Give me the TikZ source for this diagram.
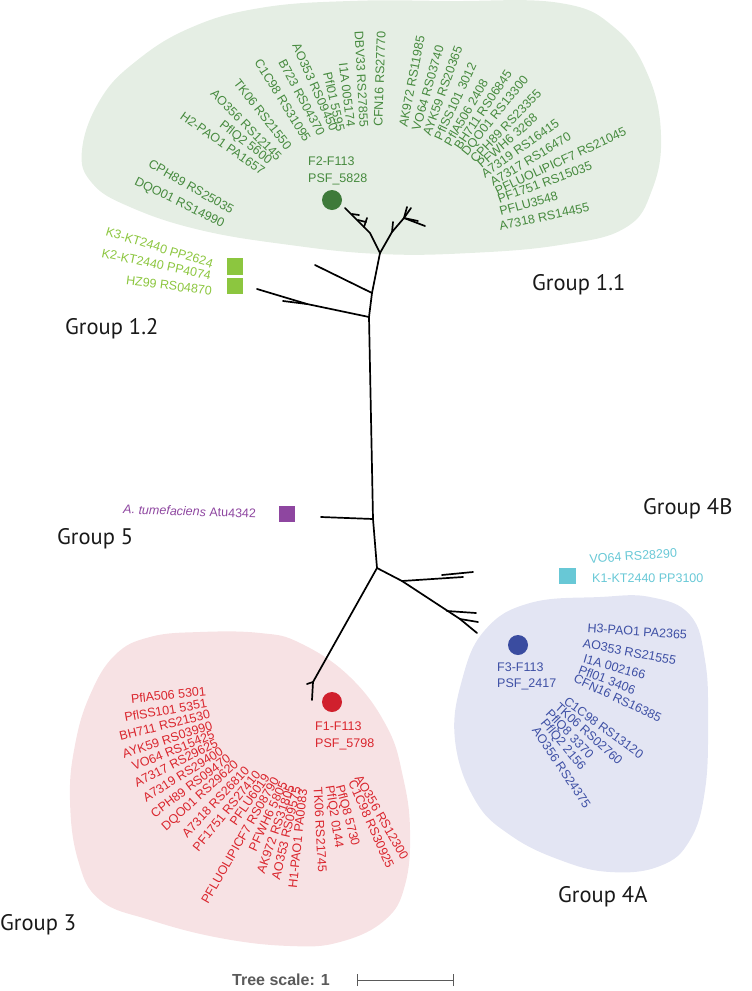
\documentclass[tikz,border=0pt]{standalone}
\usepackage{fontspec}
\setmainfont{Liberation Sans}
\newfontfamily\grpfont{PT Sans}
\definecolor{gblob}{RGB}{229,238,228}
\definecolor{rblob}{RGB}{247,226,228}
\definecolor{bblob}{RGB}{227,229,243}
\definecolor{gtext}{RGB}{70,138,62}
\definecolor{gdot}{RGB}{62,122,58}
\definecolor{lgreen}{RGB}{140,198,63}
\definecolor{rtext}{RGB}{218,37,45}
\definecolor{rdot}{RGB}{208,32,45}
\definecolor{btext}{RGB}{62,80,165}
\definecolor{bdot}{RGB}{58,76,160}
\definecolor{cyantx}{RGB}{104,200,214}
\definecolor{purp}{RGB}{142,70,160}
\definecolor{scalegray}{RGB}{90,90,90}
\tikzset{
  lab/.style={inner sep=0pt, font=\fontsize{12.5}{14}\selectfont},
  grp/.style={inner sep=0pt, anchor=base west, font=\grpfont\fontsize{22.5}{26}\selectfont, text=black!90},
  br/.style={line width=1.7pt, line cap=round, line join=round, black},
  dotmark/.style={circle, inner sep=0pt, minimum size=20pt},
  sqmark/.style={rectangle, inner sep=0pt, minimum size=16.5pt},
  reflab/.style={inner sep=0pt, anchor=base west, align=left, font=\fontsize{12.5}{16.5}\selectfont},
}
\newcommand\labL[6]{\node[lab,text=#2,anchor=east,rotate=#5] (#1) at (#3,#4) {#6};}
\newcommand\labR[6]{\node[lab,text=#2,anchor=west,rotate=#5] (#1) at (#3,#4) {#6};}
\begin{document}
\begin{tikzpicture}[x=1pt,y=-1pt]
\useasboundingbox (0,0) rectangle (752,991);
% blobs
\fill[gblob] plot[smooth cycle, tension=0.7] coordinates {(82,150) (100,100) (135,62) (190,28) (260,8) (350,1) (450,1) (560,3) (615,28) (648,75) (661,135) (652,190) (625,228) (560,245) (470,253) (380,254) (290,245) (200,230) (130,207) (92,183)};
\fill[rblob] plot[smooth cycle, tension=0.7] coordinates {(200,632) (260,633) (300,643) (350,677) (387,727) (403,777) (410,830) (405,885) (385,920) (340,942) (290,946) (220,938) (150,920) (100,900) (78,860) (70,800) (75,745) (90,695) (115,655) (150,637)};
\fill[bblob] plot[smooth cycle, tension=0.7] coordinates {(455,740) (462,680) (485,630) (530,603) (600,597) (650,597) (690,615) (705,660) (708,720) (705,790) (690,840) (660,866) (610,872) (560,860) (510,835) (475,800)};
% tree
\coordinate (J1) at (380,253);
\coordinate (T1) at (372,293);
\coordinate (T2) at (369,317);
\coordinate (T5) at (373,519);
\coordinate (J3) at (377,568);
\coordinate (L1) at (370,233);
\coordinate (L2) at (345,208);
\coordinate (R1) at (392,232);
\coordinate (R2) at (404,218);
\coordinate (K3) at (315,265);
\coordinate (KN) at (307,304);
\coordinate (K2) at (257,289);
\coordinate (HZ) at (283,301);
\coordinate (G5) at (321,517);
\coordinate (G3) at (313,682);
\coordinate (B4) at (402,581);
\coordinate (N4A) at (460,619);
\draw[br] (J1) -- (T1) -- (T2) -- (T5) -- (J3);
\draw[br] (J1) -- (L1) -- (L2);
\draw[br] (358,220) -- (366,222);
\draw[br] (352,214) -- (359,215);
\draw[br] (364,227) -- (367,218);
\draw[br] (J1) -- (R1) -- (R2);
\draw[br] (R1) -- (393,222);
\draw[br] (R2) -- (407,207);
\draw[br] (R2) -- (411,208);
\draw[br] (R2) -- (418,221);
\draw[br] (R2) -- (425,226);
\draw[br] (T1) -- (K3);
\draw[br] (T2) -- (KN) -- (K2);
\draw[br] (KN) -- (HZ);
\draw[br] (T5) -- (G5);
\draw[br] (J3) -- (G3) -- (307,684);
\draw[br] (G3) -- (312,700);
\draw[br] (J3) -- (B4) -- (463,577);
\draw[br] (442,575) -- (473,572);
\draw[br] (B4) -- (N4A) -- (477,633);
\draw[br] (N4A) -- (478,622);
\draw[br] (447,611) -- (476,613);
% markers
\node[dotmark, fill=gdot] (dotG) at (332,200) {};
\node[dotmark, fill=rdot] (dotR) at (332,702) {};
\node[dotmark, fill=bdot] (dotB) at (518,645) {};
\node[sqmark, fill=lgreen] (sqK3) at (235,266.5) {};
\node[sqmark, fill=lgreen] (sqK2) at (235,286) {};
\node[sqmark, fill=purp] (sqA) at (287,514) {};
\node[sqmark, fill=cyantx] (sqK1) at (567.5,576) {};
% reference labels (base = last line)
\node[reflab, text=gtext] (fG) at (308,182) {F2-F113\\PSF\_5828};
\node[reflab, text=rtext] (fR) at (315,747) {F1-F113\\PSF\_5798};
\node[reflab, text=btext, font=\fontsize{12.5}{15.5}\selectfont] (fB) at (497,687) {F3-F113\\PSF\_2417};
% group 1.1 left
\labL{g1}{gtext}{364}{127}{-87}{DBV33 RS27855}
\labL{g2}{gtext}{351}{127}{-83}{I1A 005174}
\labL{g3}{gtext}{341}{131}{-77}{Pfl01 5595}
\labL{g4}{gtext}{334.5}{130.6}{-66}{AO353 RS09450}
\labL{g5}{gtext}{321.7}{135.2}{-62}{B723 RS04370}
\labL{g6}{gtext}{307.9}{140.8}{-58}{C1C98 RS31095}
\labL{g7}{gtext}{289.3}{148.3}{-52}{TK06 RS21550}
\labL{g8}{gtext}{279.8}{158.8}{-45}{AO356 RS12145}
\labL{g9}{gtext}{270.3}{162.3}{-38}{PflQ2 5600}
\labL{g10}{gtext}{263.6}{172.1}{-35}{H2-PAO1 PA1657}
\labL{g11}{gtext}{233}{210.8}{-30}{CPH89 RS25035}
\labL{g12}{gtext}{223.4}{224.6}{-26}{DQO01 RS14990}
% group 1.1 right
\labR{h1}{gtext}{378}{127}{88}{CFN16 RS27770}
\labR{h2}{gtext}{403}{127}{79}{AK972 RS11985}
\labR{h3}{gtext}{415.8}{130.3}{74}{VO64 RS03740}
\labR{h4}{gtext}{426.6}{135}{70}{AYK59 RS20365}
\labR{h5}{gtext}{437.4}{139.5}{65}{PflSS101 3012}
\labR{h6}{gtext}{447.2}{145}{60}{PflA506 2408}
\labR{h7}{gtext}{457}{148.6}{56}{BH711 RS06845}
\labR{h8}{gtext}{464.7}{154.2}{51}{DQO01 RS13300}
\labR{h9}{gtext}{472.3}{160.8}{46}{CPH89 RS23355}
\labR{h10}{gtext}{478.9}{165.5}{41}{PFWH6 3268}
\labR{h11}{gtext}{482.4}{175.1}{35}{A7319 RS16415}
\labR{h12}{gtext}{491.1}{182.9}{31}{A7317 RS16470}
\labR{h13}{gtext}{495.5}{191.6}{25}{PFLUOLIPICF7 RS21045}
\labR{h14}{gtext}{498}{199.4}{20}{PF1751 RS15035}
\labR{h15}{gtext}{499.6}{211.2}{15}{PFLU3548}
\labR{h16}{gtext}{499.2}{226.1}{12}{A7318 RS14455}
% group 1.2
\labL{k1}{lgreen}{213}{264}{-17}{K3-KT2440 PP2624}
\labL{k2}{lgreen}{211}{276}{-12}{K2-KT2440 PP4074}
\labL{k3}{lgreen}{212}{291}{-7}{HZ99 RS04870}
% group 5
\node[lab, text=purp, anchor=west, rotate=-2] (atu) at (123.2,509) {\textit{A. tumefaciens} Atu4342};
% group 4B
\labR{c1}{cyantx}{589.4}{559}{4}{VO64 RS28290}
\labR{c2}{cyantx}{592}{578}{0}{K1-KT2440 PP3100}
% group 4A
\labR{b1}{btext}{587.4}{628}{-4}{H3-PAO1 PA2365}
\labR{b2}{btext}{583}{643}{-11}{AO353 RS21555}
\labR{b3}{btext}{583.5}{658}{-16}{I1A 002166}
\labR{b4}{btext}{579}{669}{-21}{Pfl01 3406}
\labR{b5}{btext}{574.4}{678}{-25}{CFN16 RS16385}
\labR{b6}{btext}{565.4}{700}{-36}{C1C98 RS13120}
\labR{b7}{btext}{557}{705}{-42}{TK06 RS02760}
\labR{b8}{btext}{547.3}{712}{-46}{PflQ8 3370}
\labR{b9}{btext}{542.6}{721}{-50}{PflQ2 2156}
\labR{b10}{btext}{535}{728}{-56}{AO356 RS24375}
% group 3 left
\labL{r1}{rtext}{206}{691}{6}{PflA506 5301}
\labL{r2}{rtext}{207}{703}{10}{PflSS101 5351}
\labL{r3}{rtext}{210}{714}{14}{BH711 RS21530}
\labL{r4}{rtext}{212}{725}{18}{AYK59 RS03990}
\labL{r5}{rtext}{214}{734}{22}{VO64 RS15425}
\labL{r6}{rtext}{217}{742}{27}{A7317 RS29625}
\labL{r7}{rtext}{222}{750}{32}{A7319 RS29400}
\labL{r8}{rtext}{229}{757}{37}{CPH89 RS09470}
\labL{r9}{rtext}{237}{763}{42}{DQO01 RS29620}
\labL{r10}{rtext}{247}{768}{47}{A7318 RS26810}
\labL{r11}{rtext}{258}{772}{51}{PF1751 RS27410}
\labL{r12}{rtext}{267}{775}{55}{PFLU6019}
\labL{r13}{rtext}{276}{778}{60}{PFLUOLIPICF7 RS08790}
\labL{r14}{rtext}{284}{782}{65}{PFWH6 5805}
\labL{r15}{rtext}{291}{785}{71}{AK972 RS31805}
\labL{r16}{rtext}{297}{787}{77}{AO353 RS09575}
\labL{r17}{rtext}{303}{789}{84}{H1-PAO1 PA0083}
% group 3 right
\labR{s1}{rtext}{318}{787}{-87}{TK06 RS21745}
\labR{s2}{rtext}{329}{786}{-81}{PflQ2 0144}
\labR{s3}{rtext}{339}{785}{-75}{PflQ8 5730}
\labR{s4}{rtext}{352}{781}{-66}{C1C98 RS30925}
\labR{s5}{rtext}{358}{776}{-60}{AO356 RS12300}
% group titles
\node[grp] (t11) at (532,290) {Group 1.1};
\node[grp] (t12) at (65,334) {Group 1.2};
\node[grp] (t5) at (57,544) {Group 5};
\node[grp] (t4b) at (643,514) {Group 4B};
\node[grp] (t4a) at (558,902) {Group 4A};
\node[grp] (t3) at (0,930) {Group 3};
% tree scale
\node[inner sep=0pt, anchor=base west, text=scalegray, font=\bfseries\fontsize{16}{18}\selectfont] (ts) at (232,985) {Tree scale: 1};
\coordinate (sb1) at (357,980);
\coordinate (sb2) at (453,980);
\draw[line width=1pt, scalegray] (sb1) -- (sb2);
\draw[line width=1pt, scalegray] ([yshift=-6pt]sb1) -- ([yshift=6pt]sb1);
\draw[line width=1pt, scalegray] ([yshift=-6pt]sb2) -- ([yshift=6pt]sb2);
\end{tikzpicture}
\end{document}
